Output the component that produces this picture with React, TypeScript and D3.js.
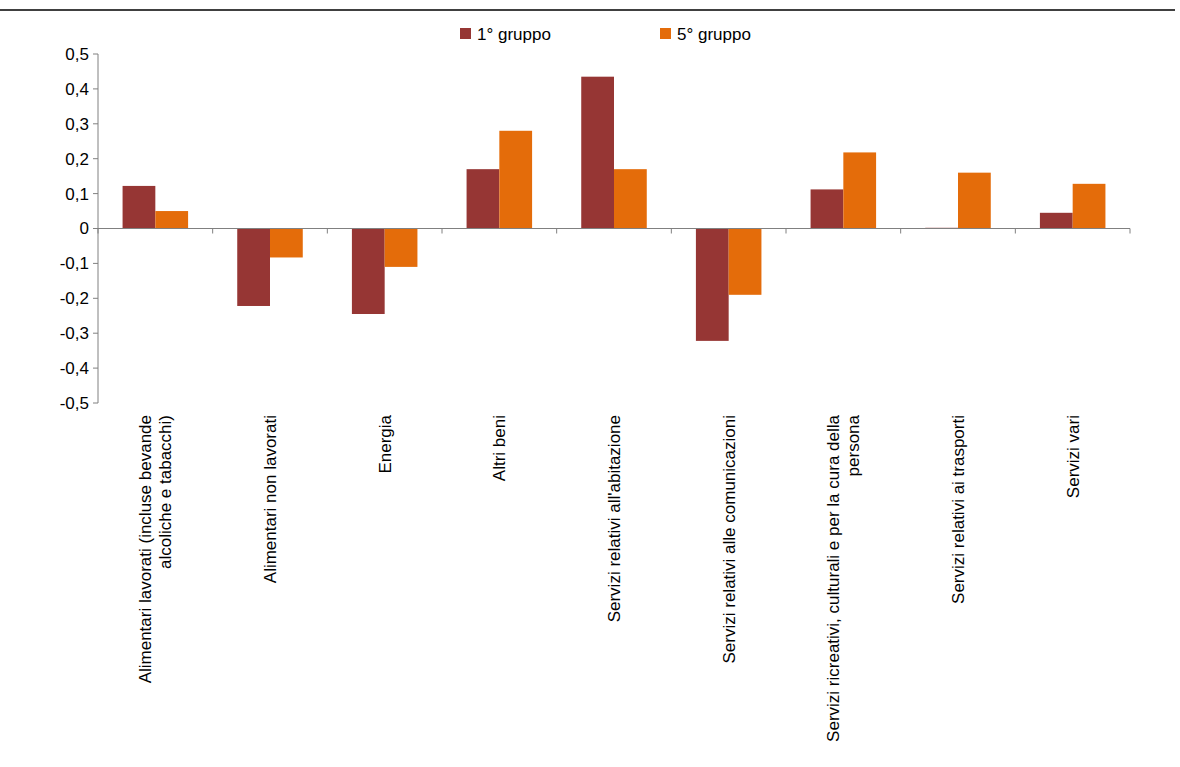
import React from "react";
import * as d3 from "d3";

const width = 1180;
const height = 767;

const categories: string[][] = [
  ["Alimentari lavorati (incluse bevande", "alcoliche e tabacchi)"],
  ["Alimentari non lavorati"],
  ["Energia"],
  ["Altri beni"],
  ["Servizi relativi all'abitazione"],
  ["Servizi relativi alle comunicazioni"],
  ["Servizi ricreativi, culturali e per la cura della", "persona"],
  ["Servizi relativi ai trasporti"],
  ["Servizi vari"],
];
const gruppo1 = [0.122, -0.222, -0.245, 0.17, 0.435, -0.322, 0.112, 0.002, 0.045];
const gruppo5 = [0.05, -0.083, -0.11, 0.28, 0.17, -0.19, 0.218, 0.16, 0.128];
const yTicks = [0.5, 0.4, 0.3, 0.2, 0.1, 0, -0.1, -0.2, -0.3, -0.4, -0.5];
const seriesNames = ["1° gruppo", "5° gruppo"];
const colors = ["#963634", "#E46C0A"];

const font = "'Liberation Sans Narrow', 'Liberation Sans', Arial, sans-serif";

const App: React.FunctionComponent = () => {
  const left = 98;
  const right = 1130;
  const x = d3.scaleBand<number>().domain(d3.range(categories.length)).range([left, right]);
  const y = d3.scaleLinear().domain([-0.5, 0.5]).range([403, 54]);
  const inner = d3.scaleBand<number>().domain([0, 1]).range([0, x.bandwidth()]).paddingOuter(0.75).paddingInner(0);
  const fmt = (v: number) => (v === 0 ? "0" : d3.format(".1f")(v).replace(".", ",").replace("−", "-"));
  const series = [gruppo1, gruppo5];

  return (
    <svg width={width} height={height} style={{ position: "absolute", left: 0, top: 0 }} fontFamily={font}>
      <line x1={0} x2={1175} y1={10} y2={10} stroke="#000" strokeWidth={1.5} />
      {series.map((vals, s) =>
        vals.map((v, i) => (
          <rect
            key={`${s}-${i}`}
            x={x(i)! + inner(s)!}
            width={inner.bandwidth()}
            y={y(Math.max(0, v))}
            height={Math.abs(y(v) - y(0))}
            fill={colors[s]}
          />
        ))
      )}
      <line x1={left} x2={left} y1={y(0.5)} y2={y(-0.5)} stroke="#808080" />
      {yTicks.map(t => (
        <g key={t}>
          <line x1={left - 5} x2={left} y1={y(t)} y2={y(t)} stroke="#808080" />
          <text x={left - 9} y={y(t)} dy="0.35em" textAnchor="end" fontSize={17}>
            {fmt(t)}
          </text>
        </g>
      ))}
      <line x1={left} x2={right} y1={y(0)} y2={y(0)} stroke="#808080" />
      {d3.range(categories.length + 1).map(i => {
        const xp = left + i * x.step();
        return <line key={i} x1={xp} x2={xp} y1={y(0)} y2={y(0) + 5} stroke="#808080" />;
      })}
      {categories.map((lines, i) => {
        const cx = x(i)! + x.bandwidth() / 2;
        return (
          <text key={i} transform={`translate(${cx},415) rotate(-90)`} textAnchor="end" fontSize={17}>
            {lines.map((l, j) => (
              <tspan key={j} x={0} dy={j === 0 ? `${0.35 - (lines.length - 1) * 0.6}em` : "1.2em"}>
                {l}
              </tspan>
            ))}
          </text>
        );
      })}
      {seriesNames.map((n, s) => (
        <g key={n} transform={`translate(${460 + s * 200},28)`}>
          <rect width={11} height={11} fill={colors[s]} />
          <text x={17} y={6} dy="0.35em" fontSize={17}>
            {n}
          </text>
        </g>
      ))}
    </svg>
  );
};

export default App;
